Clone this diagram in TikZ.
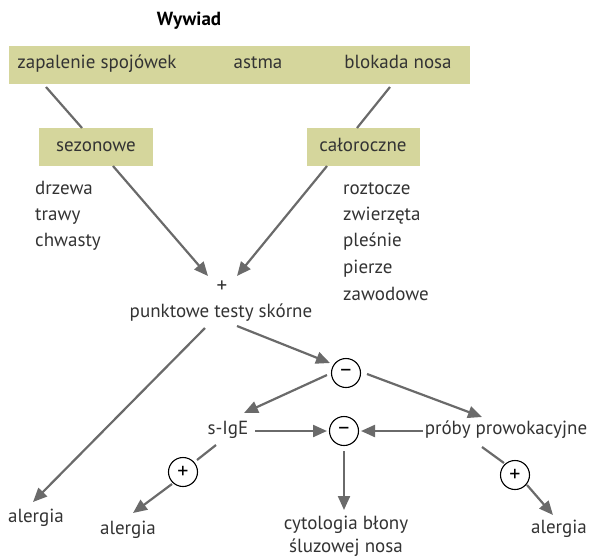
\documentclass[tikz,border=0pt]{standalone}
\usepackage{fontspec}
\setmainfont{PT Sans}
\usetikzlibrary{arrows.meta}
\definecolor{band}{HTML}{D5D69C}
\definecolor{arrgray}{HTML}{6A6A6A}
\definecolor{txt}{HTML}{333333}
\begin{document}
\begin{tikzpicture}[x=1pt,y=-1pt,
  every node/.style={font=\fontsize{19}{22}\selectfont, text=txt, inner sep=0pt},
  lbl/.style={text height=13.5pt, text depth=4pt},
  boxed/.style={fill=band},
  conn/.style={draw=arrgray, line width=2.2pt},
  arr/.style={conn, -{Triangle[length=14pt,width=12pt]}},
  sign/.style={circle, draw=black, line width=1.1pt, minimum size=29pt, text=black, font=\fontsize{22}{22}\selectfont}
]
\useasboundingbox (0,0) rectangle (595,558);
\node[lbl, font=\fontsize{19}{22}\selectfont\bfseries, text=black] (title) at (189,21) {Wywiad};
\node[boxed, minimum width=461pt, minimum height=38pt] (band) at (239.5,65) {};
\node[lbl] (zs) at (97,64) {zapalenie spojówek};
\node[lbl] (astma) at (258,64) {astma};
\node[lbl] (blok) at (398,64) {blokada nosa};
\node[lbl, boxed, minimum width=114pt, minimum height=38pt] (sez) at (96,147) {sezonowe};
\node[lbl, boxed, minimum width=113pt, minimum height=38pt] (cal) at (363,147) {całoroczne};
\node[lbl, anchor=west] (l1) at (35,190) {drzewa};
\node[lbl, anchor=west] (l2) at (35,216) {trawy};
\node[lbl, anchor=west] (l3) at (35,242) {chwasty};
\node[lbl, anchor=west] (r1) at (343,190) {roztocze};
\node[lbl, anchor=west] (r2) at (343,216) {zwierzęta};
\node[lbl, anchor=west] (r3) at (343,242) {pleśnie};
\node[lbl, anchor=west] (r4) at (343,269) {pierze};
\node[lbl, anchor=west] (r5) at (343,296) {zawodowe};
\node[font=\fontsize{21}{22}\selectfont] (plus) at (222,287) {+};
\node[lbl] (pts) at (221,313) {punktowe testy skórne};
\node[sign] (c1) at (346,373) {–};
\node[lbl] (sige) at (228,430) {s-IgE};
\node[sign] (c2) at (344,431) {–};
\node[lbl] (proby) at (506,430) {próby prowokacyjne};
\node[sign] (p1) at (183,472) {+};
\node[sign] (p2) at (515,475) {+};
\node[lbl] (al1) at (36,518) {alergia};
\node[lbl] (al2) at (128,530) {alergia};
\node[lbl] (al3) at (559,529) {alergia};
\node[lbl] (cyt1) at (346,525) {cytologia błony};
\node[lbl] (cyt2) at (346,548) {śluzowej nosa};
% connector end points
\coordinate (a1) at (46,87);
\coordinate (a2) at (82,128);
\coordinate (b1) at (390,87);
\coordinate (b2) at (357,128);
\coordinate (s1) at (113,166);
\coordinate (s2) at (208,276);
\coordinate (k1) at (327,166);
\coordinate (k2) at (237,276);
\coordinate (t1) at (205,328);
\coordinate (t2) at (33,502);
\coordinate (u1) at (237,326);
\coordinate (u2) at (330,363);
\coordinate (v1) at (327,375);
\coordinate (v2) at (244,413);
\coordinate (w1) at (367,374);
\coordinate (w2) at (482,417);
\coordinate (x1) at (255,431);
\coordinate (x2) at (327,431);
\coordinate (y1) at (423,431);
\coordinate (y2) at (361,431);
\coordinate (z1) at (344,451);
\coordinate (z2) at (344,510);
\coordinate (g1) at (216,445);
\coordinate (g2) at (197,460);
\coordinate (h1) at (172,484);
\coordinate (h2) at (133,513);
\coordinate (m1) at (482,447);
\coordinate (m2) at (504,463);
\coordinate (n1) at (527,485);
\coordinate (n2) at (553,515);
\draw[conn] (a1) -- (a2);
\draw[conn] (b1) -- (b2);
\draw[arr] (s1) -- (s2);
\draw[arr] (k1) -- (k2);
\draw[arr] (t1) -- (t2);
\draw[arr] (u1) -- (u2);
\draw[arr] (v1) -- (v2);
\draw[arr] (w1) -- (w2);
\draw[arr] (x1) -- (x2);
\draw[arr] (y1) -- (y2);
\draw[arr] (z1) -- (z2);
\draw[conn] (g1) -- (g2);
\draw[arr] (h1) -- (h2);
\draw[conn] (m1) -- (m2);
\draw[arr] (n1) -- (n2);
\end{tikzpicture}
\end{document}
